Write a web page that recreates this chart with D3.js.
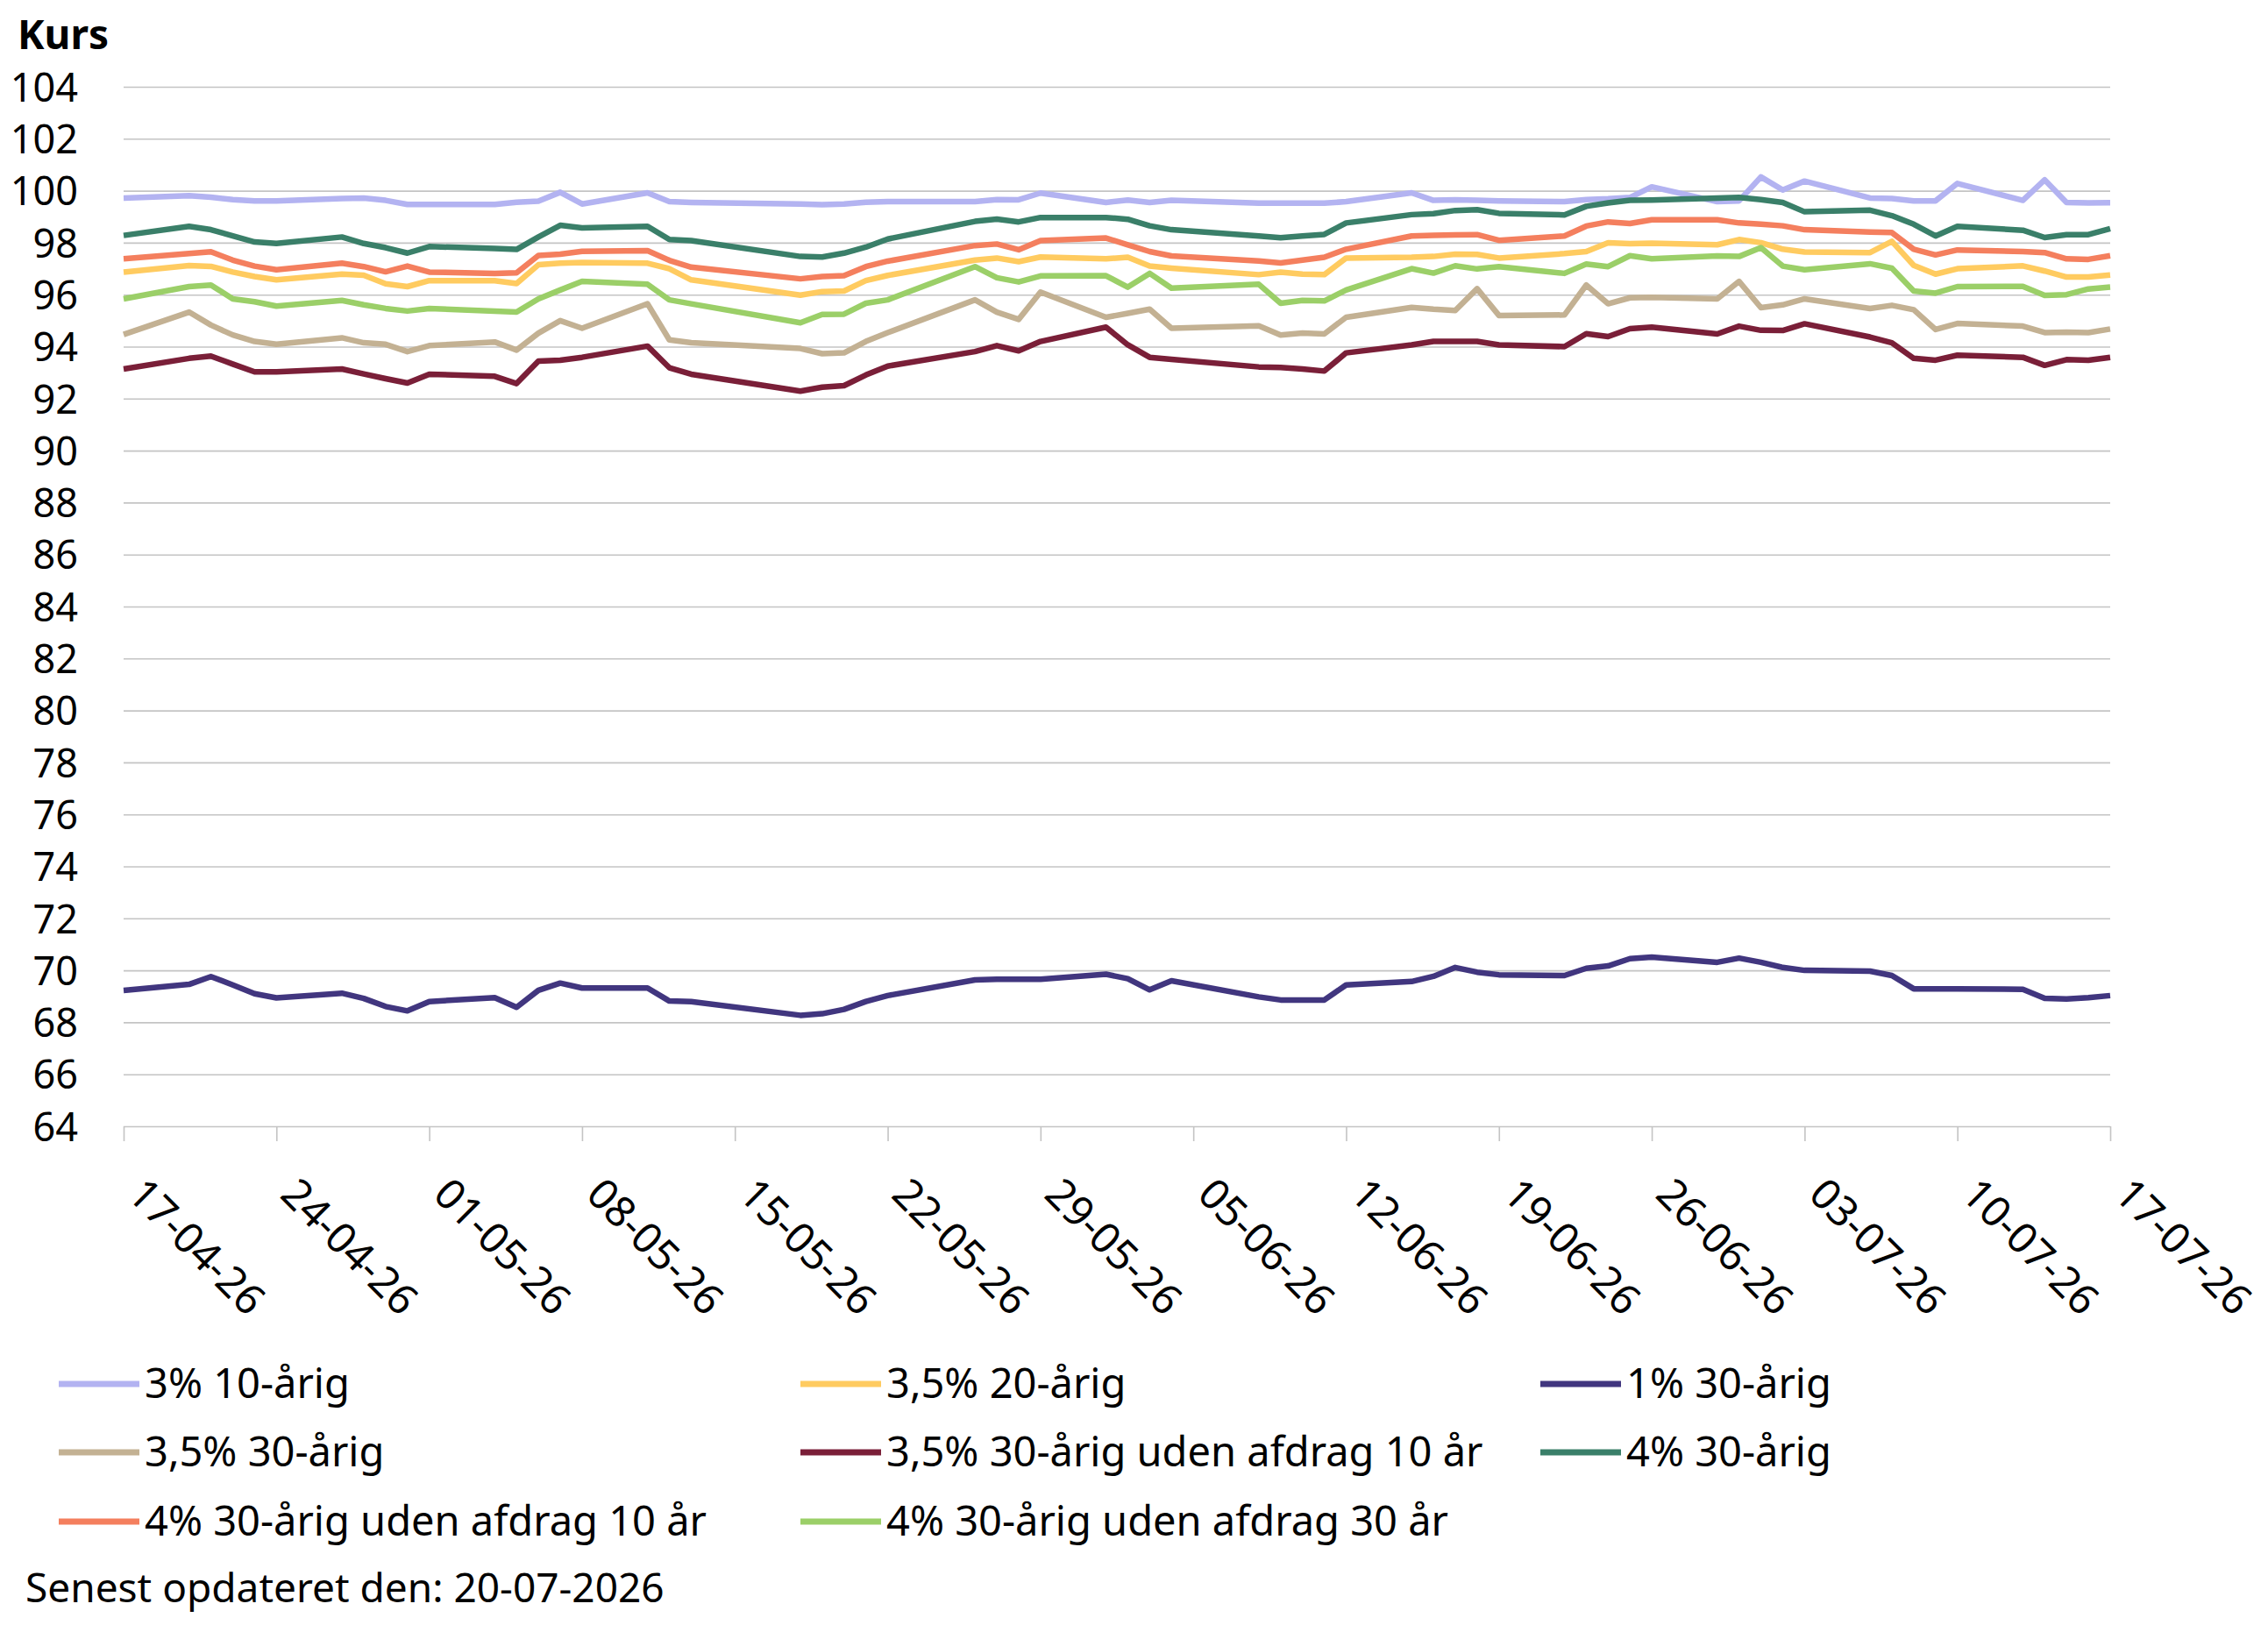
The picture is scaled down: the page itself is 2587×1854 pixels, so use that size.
<!DOCTYPE html>
<html>
<head>
<meta charset="utf-8">
<script src="https://cdn.jsdelivr.net/npm/d3@7"></script>
<style>
  body { margin: 0; background: #fff; }
  svg { display: block; font-family: "Noto Sans", sans-serif; }
</style>
</head>
<body>
<svg id="drawing_region"></svg>
<script>
// handelsdage (weekender og helligdage mangler)
const dates = [
  "2026-04-17","2026-04-20","2026-04-21","2026-04-22","2026-04-23","2026-04-24","2026-04-27","2026-04-28","2026-04-29","2026-04-30",
  "2026-05-01","2026-05-04","2026-05-05","2026-05-06","2026-05-07","2026-05-08","2026-05-11","2026-05-12","2026-05-13","2026-05-18",
  "2026-05-19","2026-05-20","2026-05-21","2026-05-22","2026-05-26","2026-05-27","2026-05-28","2026-05-29",
  "2026-06-01","2026-06-02","2026-06-03","2026-06-04","2026-06-08","2026-06-09","2026-06-10","2026-06-11","2026-06-12","2026-06-15",
  "2026-06-16","2026-06-17","2026-06-18","2026-06-19","2026-06-22","2026-06-23","2026-06-24","2026-06-25","2026-06-26","2026-06-29","2026-06-30",
  "2026-07-01","2026-07-02","2026-07-03","2026-07-06","2026-07-07","2026-07-08","2026-07-09","2026-07-10","2026-07-13","2026-07-14",
  "2026-07-15","2026-07-16","2026-07-17"
];

const names = [
  "3% 10-årig", "3,5% 20-årig", "1% 30-årig",
  "3,5% 30-årig", "3,5% 30-årig uden afdrag 10 år", "4% 30-årig",
  "4% 30-årig uden afdrag 10 år", "4% 30-årig uden afdrag 30 år"
];

const kurs_3_10 = [
  99.72, 99.81, 99.75, 99.66, 99.61, 99.61, 99.70, 99.72, 99.63, 99.47,
  99.47, 99.47, 99.56, 99.60, 99.94, 99.49, 99.92, 99.58, 99.55, 99.49, 99.46, 99.49, 99.56, 99.58, 99.58, 99.66, 99.65, 99.91,
  99.55, 99.64, 99.55, 99.63, 99.52, 99.52, 99.52, 99.52, 99.58, 99.92, 99.63, 99.65, 99.63, 99.61, 99.58, 99.66, 99.69, 99.74, 100.15, 99.58, 99.61,
  100.53, 100.03, 100.37, 99.72, 99.70, 99.61, 99.61, 100.28, 99.63, 100.42, 99.55, 99.53, 99.54
];
const kurs_35_20 = [
  96.87, 97.12, 97.09, 96.87, 96.70, 96.57, 96.79, 96.75, 96.42, 96.31,
  96.54, 96.54, 96.43, 97.15, 97.21, 97.24, 97.21, 97.00, 96.57, 95.98, 96.12, 96.14, 96.54, 96.74, 97.33, 97.41, 97.27, 97.45,
  97.38, 97.44, 97.10, 97.02, 96.77, 96.87, 96.79, 96.77, 97.41, 97.44, 97.47, 97.56, 97.55, 97.41, 97.58, 97.66, 98.00, 97.96, 97.98, 97.92, 98.12,
  98.00, 97.75, 97.64, 97.62, 98.05, 97.13, 96.79, 97.00, 97.11, 96.91, 96.68, 96.68, 96.76
];
const kurs_1_30 = [
  69.23, 69.46, 69.76, 69.44, 69.10, 68.94, 69.12, 68.92, 68.61, 68.44,
  68.80, 68.95, 68.58, 69.23, 69.51, 69.32, 69.32, 68.82, 68.80, 68.27, 68.33, 68.50, 68.80, 69.03, 69.63, 69.66, 69.66, 69.66,
  69.85, 69.68, 69.25, 69.60, 68.98, 68.86, 68.86, 68.86, 69.44, 69.57, 69.77, 70.11, 69.93, 69.83, 69.80, 70.08, 70.17, 70.45, 70.51, 70.31, 70.47,
  70.31, 70.11, 70.00, 69.97, 69.80, 69.29, 69.29, 69.29, 69.27, 68.92, 68.90, 68.95, 69.03
];
const kurs_35_30 = [
  94.47, 95.33, 94.83, 94.45, 94.20, 94.09, 94.34, 94.15, 94.09, 93.81,
  94.04, 94.18, 93.87, 94.52, 95.00, 94.71, 95.65, 94.26, 94.15, 93.93, 93.73, 93.76, 94.20, 94.54, 95.80, 95.33, 95.05, 96.10,
  95.13, 95.28, 95.44, 94.71, 94.80, 94.45, 94.52, 94.49, 95.13, 95.51, 95.44, 95.39, 96.23, 95.20, 95.22, 96.37, 95.65, 95.88, 95.90, 95.84, 96.51,
  95.50, 95.61, 95.84, 95.47, 95.59, 95.42, 94.66, 94.89, 94.79, 94.54, 94.56, 94.54, 94.68
];
const kurs_35_30_u10 = [
  93.14, 93.55, 93.64, 93.33, 93.03, 93.03, 93.14, 92.95, 92.77, 92.60,
  92.94, 92.86, 92.58, 93.44, 93.48, 93.59, 94.02, 93.19, 92.94, 92.29, 92.44, 92.50, 92.91, 93.25, 93.81, 94.04, 93.84, 94.20,
  94.75, 94.07, 93.59, 93.51, 93.22, 93.20, 93.14, 93.06, 93.76, 94.07, 94.20, 94.20, 94.20, 94.07, 94.00, 94.50, 94.39, 94.69, 94.75, 94.49, 94.79,
  94.63, 94.62, 94.88, 94.37, 94.15, 93.55, 93.48, 93.67, 93.59, 93.28, 93.50, 93.48, 93.59
];
const kurs_4_30 = [
  98.28, 98.63, 98.50, 98.26, 98.03, 97.97, 98.22, 97.97, 97.81, 97.60,
  97.85, 97.78, 97.74, 98.22, 98.67, 98.57, 98.63, 98.12, 98.08, 97.47, 97.45, 97.60, 97.83, 98.14, 98.82, 98.91, 98.80, 98.97,
  98.97, 98.90, 98.65, 98.50, 98.26, 98.19, 98.26, 98.32, 98.76, 99.08, 99.12, 99.24, 99.27, 99.13, 99.07, 99.40, 99.53, 99.63, 99.64, 99.72, 99.74,
  99.66, 99.55, 99.19, 99.25, 99.04, 98.71, 98.26, 98.63, 98.48, 98.20, 98.31, 98.31, 98.54
];
const kurs_4_30_u10 = [
  97.38, 97.58, 97.65, 97.33, 97.10, 96.96, 97.21, 97.08, 96.88, 97.10,
  96.87, 96.82, 96.84, 97.51, 97.56, 97.67, 97.69, 97.32, 97.06, 96.61, 96.70, 96.73, 97.08, 97.29, 97.89, 97.95, 97.73, 98.08,
  98.18, 97.92, 97.66, 97.49, 97.30, 97.22, 97.33, 97.44, 97.75, 98.26, 98.28, 98.30, 98.31, 98.09, 98.26, 98.64, 98.80, 98.74, 98.88, 98.88, 98.76,
  98.71, 98.65, 98.50, 98.41, 98.39, 97.75, 97.53, 97.72, 97.66, 97.62, 97.38, 97.36, 97.50
];
const kurs_4_30_u30 = [
  95.84, 96.31, 96.37, 95.84, 95.73, 95.56, 95.78, 95.61, 95.47, 95.37,
  95.47, 95.37, 95.33, 95.84, 96.18, 96.51, 96.40, 95.80, 95.65, 94.92, 95.24, 95.25, 95.67, 95.80, 97.08, 96.65, 96.49, 96.72,
  96.73, 96.29, 96.82, 96.25, 96.40, 95.67, 95.78, 95.76, 96.18, 97.00, 96.83, 97.11, 96.99, 97.08, 96.82, 97.18, 97.08, 97.50, 97.38, 97.49, 97.47,
  97.81, 97.10, 96.96, 97.19, 97.02, 96.14, 96.06, 96.31, 96.32, 95.97, 96.00, 96.22, 96.29
];

const values = [kurs_3_10, kurs_35_20, kurs_1_30, kurs_35_30, kurs_35_30_u10, kurs_4_30, kurs_4_30_u10, kurs_4_30_u30];
const colors = ["#b3b3f1", "#ffcb60", "#41367f", "#c3b193", "#7a1f38", "#3a7f69", "#f47f5e", "#9bcf68"];

const yTicks = d3.range(64, 105, 2);
const xTickLabels = [
  "2026-04-17","2026-04-24","2026-05-01","2026-05-08","2026-05-15","2026-05-22","2026-05-29",
  "2026-06-05","2026-06-12","2026-06-19","2026-06-26","2026-07-03","2026-07-10","2026-07-17"
];

const width = 2587, height = 1854;
const margin = {left: 141, right: 180, top: 99, bottom: 569};
const plotW = width - margin.left - margin.right;
const plotH = height - margin.top - margin.bottom;

const parse = d3.timeParse("%Y-%m-%d");
const fmt = d3.timeFormat("%d-%m-%y");

const svg = d3.select("#drawing_region")
    .attr("width", width)
    .attr("height", height);

const chart = svg.append("g")
    .attr("transform", `translate(${margin.left}, ${margin.top})`);

const xscale = d3.scaleTime()
    .domain([parse(xTickLabels[0]), parse(xTickLabels[xTickLabels.length - 1])])
    .range([0, plotW]);
const yscale = d3.scaleLinear()
    .domain([64, 104])
    .range([plotH, 0]);

// gitterlinjer + y-akse
const yaxis = d3.axisLeft(yscale)
    .tickValues(yTicks)
    .tickFormat(d3.format("d"))
    .tickSizeInner(-plotW)
    .tickSizeOuter(0)
    .tickPadding(52);
chart.append("g")
    .call(yaxis)
    .call(g => g.select(".domain").remove())
    .call(g => g.selectAll(".tick line").attr("stroke", "#c4c4c4").attr("stroke-width", 1.6))
    .call(g => g.selectAll(".tick text")
        .attr("fill", "#000")
        .attr("dy", "0.36em")
        .style("font-size", "45px")
        .style("font-family", "'Noto Sans', sans-serif"));

// x-akse med ugentlige ticks
const xaxis = d3.axisBottom(xscale)
    .tickValues(xTickLabels.map(parse))
    .tickFormat(fmt)
    .tickSizeInner(17)
    .tickSizeOuter(0);
chart.append("g")
    .attr("transform", `translate(0, ${plotH})`)
    .call(xaxis)
    .call(g => g.select(".domain").remove())
    .call(g => g.selectAll(".tick line").attr("stroke", "#c4c4c4").attr("stroke-width", 1.6))
    .call(g => g.selectAll(".tick text")
        .attr("fill", "#000")
        .attr("x", 0).attr("y", 0).attr("dy", 0)
        .attr("text-anchor", "start")
        .attr("transform", "translate(2, 80) rotate(45)")
        .style("font-size", "48px")
        .style("font-family", "'Noto Sans', sans-serif"));

// linjer
const line = d3.line()
    .x((d, i) => xscale(parse(dates[i])))
    .y(d => yscale(d));

chart.selectAll("path.serie")
    .data(values)
    .enter()
    .append("path")
    .attr("class", "serie")
    .attr("fill", "none")
    .attr("stroke", (d, i) => colors[i])
    .attr("stroke-width", 6.5)
    .attr("stroke-linejoin", "round")
    .attr("d", d => line(d));

// aksetitel
svg.append("text")
    .attr("x", 20)
    .attr("y", 56)
    .attr("font-weight", "bold")
    .style("font-size", "46px")
    .text("Kurs");

// legend
const legCols = [67, 913, 1757];
const legRows = [1579, 1657, 1736];
const legend = svg.append("g");
names.forEach((name, i) => {
    const cx = legCols[i % 3];
    const cy = legRows[Math.floor(i / 3)];
    legend.append("line")
        .attr("x1", cx).attr("x2", cx + 92)
        .attr("y1", cy).attr("y2", cy)
        .attr("stroke", colors[i])
        .attr("stroke-width", 7);
    legend.append("text")
        .attr("x", cx + 98)
        .attr("y", cy)
        .attr("dy", "0.35em")
        .style("font-size", "47px")
        .text(name);
});

svg.append("text")
    .attr("x", 29)
    .attr("y", 1828)
    .style("font-size", "46px")
    .text("Senest opdateret den: 20-07-2026");
</script>
</body>
</html>
